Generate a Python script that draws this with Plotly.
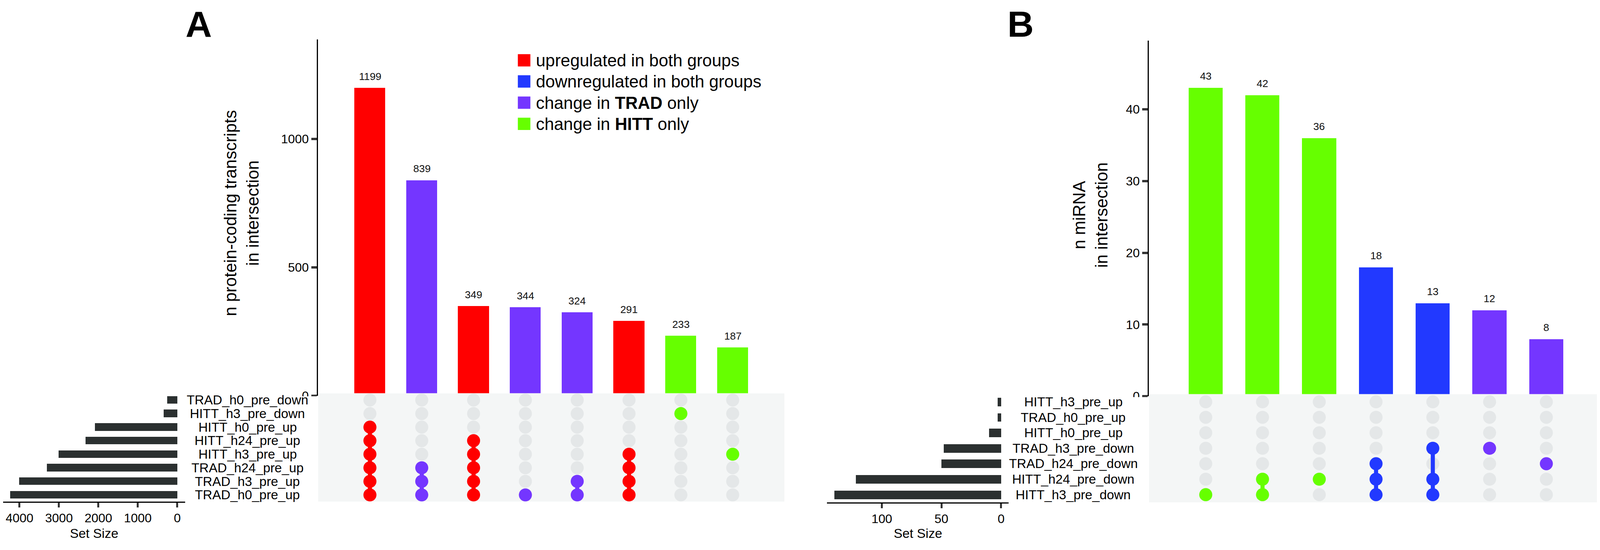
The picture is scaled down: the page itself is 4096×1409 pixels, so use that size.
import plotly.graph_objects as go

# ---------------- data ----------------
# Panel A (protein-coding transcripts)
a_int_sizes = [1199, 839, 349, 344, 324, 291, 233, 187]
a_int_groups = ["up", "trad", "up", "trad", "trad", "up", "hitt", "hitt"]
a_sets = ["TRAD_h0_pre_down", "HITT_h3_pre_down", "HITT_h0_pre_up", "HITT_h24_pre_up",
          "HITT_h3_pre_up", "TRAD_h24_pre_up", "TRAD_h3_pre_up", "TRAD_h0_pre_up"]
a_set_sizes = [252, 342, 2092, 2321, 3007, 3308, 4006, 4235]
a_members = [
    ["HITT_h0_pre_up", "HITT_h24_pre_up", "HITT_h3_pre_up", "TRAD_h24_pre_up", "TRAD_h3_pre_up", "TRAD_h0_pre_up"],
    ["TRAD_h24_pre_up", "TRAD_h3_pre_up", "TRAD_h0_pre_up"],
    ["HITT_h24_pre_up", "HITT_h3_pre_up", "TRAD_h24_pre_up", "TRAD_h3_pre_up", "TRAD_h0_pre_up"],
    ["TRAD_h0_pre_up"],
    ["TRAD_h3_pre_up", "TRAD_h0_pre_up"],
    ["HITT_h3_pre_up", "TRAD_h24_pre_up", "TRAD_h3_pre_up", "TRAD_h0_pre_up"],
    ["HITT_h3_pre_down"],
    ["HITT_h3_pre_up"],
]
a_ytitle = "n protein-coding transcripts<br>in intersection"
a_yticks = [0, 500, 1000]
a_setticks = [0, 1000, 2000, 3000, 4000]

# Panel B (miRNA)
b_int_sizes = [43, 42, 36, 18, 13, 12, 8]
b_int_groups = ["hitt", "hitt", "hitt", "down", "down", "trad", "trad"]
b_sets = ["HITT_h3_pre_up", "TRAD_h0_pre_up", "HITT_h0_pre_up", "TRAD_h3_pre_down",
          "TRAD_h24_pre_down", "HITT_h24_pre_down", "HITT_h3_pre_down"]
b_set_sizes = [3, 3, 10, 48, 50, 122, 140]
b_members = [
    ["HITT_h3_pre_down"],
    ["HITT_h24_pre_down", "HITT_h3_pre_down"],
    ["HITT_h24_pre_down"],
    ["TRAD_h24_pre_down", "HITT_h24_pre_down", "HITT_h3_pre_down"],
    ["TRAD_h3_pre_down", "HITT_h24_pre_down", "HITT_h3_pre_down"],
    ["TRAD_h3_pre_down"],
    ["TRAD_h24_pre_down"],
]
b_ytitle = "n miRNA<br>in intersection"
b_yticks = [0, 10, 20, 30, 40]
b_setticks = [0, 50, 100]

group_colors = {"up": "#FF0000", "down": "#2239FF", "trad": "#7436FF", "hitt": "#66FF00"}
legend_groups = ["up", "down", "trad", "hitt"]
legend_labels = ["upregulated in both groups", "downregulated in both groups",
                 "change in <b>TRAD</b> only", "change in <b>HITT</b> only"]

# ---------------- styling / layout helpers ----------------
RW, RH = 4300.0, 1479.0  # reference pixel frame
S = 4096.0 / RW
FONT = "Liberation Sans, Arial, Helvetica, sans-serif"
INACTIVE = "#E4E7E8"
MATRIX_BG = "#F4F6F6"
SETBAR = "#2B3030"
TICKC = "#333333"


def px(x):
    return x / RW


def py(y):
    return 1 - y / RH


fig = go.Figure()
annotations = []
shapes = []


def axname(a):
    return a[0] + "axis" + a[1:]


def add_panel(k, sizes, groups, sets, set_sizes, members, ytitle, yticks, setticks, geo):
    n = len(sizes)
    xs = list(range(1, n + 1))
    xb = "x" if k == 1 else f"x{k}"
    yb = "y" if k == 1 else f"y{k}"
    xm, ym, xs_, ys_ = f"x{k+1}", f"y{k+1}", f"x{k+2}", f"y{k+2}"
    cols = [group_colors[g] for g in groups]
    # intersection bars
    fig.add_trace(go.Bar(x=xs, y=sizes, marker=dict(color=cols, line=dict(width=0)),
                         width=0.6, xaxis=xb, yaxis=yb, showlegend=False, hoverinfo="x+y"))
    for x, v in zip(xs, sizes):
        annotations.append(dict(x=x, y=v, xref=xb, yref=yb, text=str(v), showarrow=False,
                                yshift=31 * S, yanchor="middle",
                                font=dict(family=FONT, size=28 * S, color="#111")))
    # matrix: inactive dots
    gx, gy = [], []
    for x in xs:
        for s in sets:
            gx.append(x)
            gy.append(s)
    fig.add_trace(go.Scatter(x=gx, y=gy, mode="markers", xaxis=xm, yaxis=ym,
                             marker=dict(size=35 * S, color=INACTIVE, line=dict(width=0)),
                             showlegend=False, hoverinfo="skip"))
    # connecting lines and active dots
    for x, mem, c in zip(xs, members, cols):
        idx = sorted(sets.index(m) for m in mem)
        if len(idx) > 1:
            fig.add_trace(go.Scatter(x=[x, x], y=[sets[idx[0]], sets[idx[-1]]], mode="lines",
                                     xaxis=xm, yaxis=ym, line=dict(color=c, width=11 * S),
                                     showlegend=False, hoverinfo="skip"))
        fig.add_trace(go.Scatter(x=[x] * len(mem), y=mem, mode="markers", xaxis=xm, yaxis=ym,
                                 marker=dict(size=35 * S, color=c, line=dict(width=0)),
                                 showlegend=False, hoverinfo="skip"))
    # set size bars
    fig.add_trace(go.Bar(x=set_sizes, y=sets, orientation="h", width=geo["setbarw"],
                         marker=dict(color=SETBAR, line=dict(width=0)),
                         xaxis=xs_, yaxis=ys_, showlegend=False, hoverinfo="x+y"))
    for s in sets:
        annotations.append(dict(x=px(geo["labx"]), y=s, xref="paper", yref=ym, text=s,
                                showarrow=False, xanchor="center", yanchor="middle",
                                font=dict(family=FONT, size=35 * S, color="#000")))
    # axes
    xr = [0, n + 1]
    rows = [len(sets) - 0.5, -0.5]
    fig.layout[axname(xb)] = dict(domain=[px(geo["x0"]), px(geo["x1"])], range=xr,
                                  visible=False, anchor=yb)
    fig.layout[axname(yb)] = dict(domain=[py(geo["yb0"]), py(geo["yb1"])], range=[0, geo["ymax"]],
                                  anchor=xb, showline=True, linecolor="#000", linewidth=3.3 * S,
                                  ticks="outside", ticklen=15 * S, tickwidth=6 * S,
                                  tickcolor=TICKC, tickvals=yticks, showgrid=False,
                                  zeroline=False,
                                  tickfont=dict(family=FONT, size=33.5 * S, color="#000"))
    fig.layout[axname(xm)] = dict(domain=[px(geo["x0"]), px(geo["x1"])], range=xr,
                                  visible=False, anchor=ym)
    fig.layout[axname(ym)] = dict(domain=[py(geo["ym0"]), py(geo["ym1"])], type="category",
                                  categoryorder="array", categoryarray=sets, range=rows,
                                  visible=False, anchor=xm)
    fig.layout[axname(xs_)] = dict(domain=[px(geo["sx0"]), px(geo["sx1"])], range=geo["srange"],
                                   anchor=ys_, showline=True, linecolor="#000",
                                   linewidth=3.3 * S, ticks="outside", ticklen=12 * S,
                                   tickwidth=5 * S, tickcolor=TICKC, tickvals=setticks,
                                   showgrid=False, zeroline=False,
                                   tickfont=dict(family=FONT, size=33.5 * S, color="#000"))
    fig.layout[axname(ys_)] = dict(domain=[py(geo["ym0"]), py(geo["ym1"])], type="category",
                                   categoryorder="array", categoryarray=sets, range=rows,
                                   visible=False, anchor=xs_)
    # matrix background (in matrix subplot, drawn above the bar subplot)
    shapes.append(dict(type="rect", xref=xm, yref=ym, x0=xr[0], x1=xr[1], y0=rows[1], y1=rows[0],
                       fillcolor=MATRIX_BG, line=dict(width=0), layer="below"))
    # lower half of the "0" tick label is hidden in the original
    shapes.append(dict(type="rect", xref="paper", yref="paper", x0=px(geo["x0"] - 80),
                       x1=px(geo["x0"] - 1.5), y0=py(geo["hide1"]), y1=py(geo["hide0"]),
                       fillcolor="#FFFFFF", line=dict(width=0), layer="above"))
    # titles
    annotations.append(dict(x=px(geo["tx"]), y=py(geo["ty"]), xref="paper", yref="paper",
                            text=ytitle, textangle=-90, showarrow=False, xanchor="center",
                            yanchor="middle", font=dict(family=FONT, size=46 * S, color="#000")))
    annotations.append(dict(x=px((geo["sx0"] + geo["sx1"]) / 2), y=py(1444), xref="paper",
                            yref="paper", text="Set Size", showarrow=False, xanchor="center",
                            yanchor="middle", font=dict(family=FONT, size=35 * S, color="#000")))
    annotations.append(dict(x=px(geo["letx"]), y=1, xref="paper", yref="paper",
                            text="<b>" + geo["letter"] + "</b>", showarrow=False,
                            xanchor="center", yanchor="top", borderpad=0,
                            font=dict(family=FONT, size=98 * S, color="#000")))


geoA = dict(x0=846.5, x1=2100, yb0=1069.5, yb1=99.3, ymax=1387, ym0=1358, ym1=1062.7,
            sx0=0, sx1=489, srange=[4415, -198], setbarw=0.56, labx=657,
            tx=640.5, ty=572, letx=525, letter="A", hide0=1071, hide1=1095)
geoB = dict(x0=3079.5, x1=4300, yb0=1071, yb1=101.7, ymax=49.6, ym0=1360, ym1=1065,
            sx0=2213.8, sx1=2702.6, srange=[146.1, -6.43], setbarw=0.55, labx=2876,
            tx=2921, ty=577, letx=2734, letter="B", hide0=1073, hide1=1098)

add_panel(1, a_int_sizes, a_int_groups, a_sets, a_set_sizes, a_members, a_ytitle, a_yticks,
          a_setticks, geoA)
add_panel(4, b_int_sizes, b_int_groups, b_sets, b_set_sizes, b_members, b_ytitle, b_yticks,
          b_setticks, geoB)

# legend (panel A)
leg_y = [155.7, 213.3, 271.2, 328.8]
for g, lab, yc in zip(legend_groups, legend_labels, leg_y):
    shapes.append(dict(type="rect", xref="paper", yref="paper", x0=px(1383.3), x1=px(1417),
                       y0=py(yc + 16.8), y1=py(yc - 16.8), fillcolor=group_colors[g],
                       line=dict(width=0), layer="above"))
    annotations.append(dict(x=px(1430), y=py(yc), xref="paper", yref="paper", text=lab,
                            showarrow=False, xanchor="left", yanchor="middle",
                            font=dict(family=FONT, size=46 * S, color="#000")))

fig.update_layout(width=4096, height=1409, margin=dict(l=0, r=0, t=0, b=0),
                  paper_bgcolor="#FFFFFF", plot_bgcolor="#FFFFFF", bargap=0,
                  annotations=annotations, shapes=shapes, showlegend=False,
                  font=dict(family=FONT))
fig.write_html("out.html")
